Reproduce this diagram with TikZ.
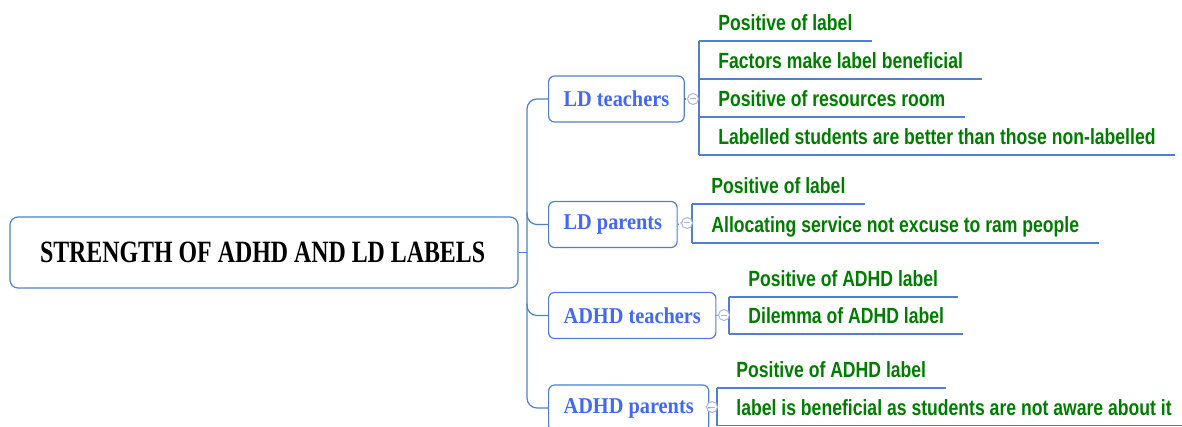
\documentclass[tikz,border=0pt]{standalone}
\usepackage{fontspec}
\setmainfont{Liberation Serif}
\newfontfamily\leaffont[FakeStretch=0.8]{Liberation Sans}
\newfontfamily\titlefont[FakeStretch=0.77]{Liberation Serif}
\newfontfamily\childfont[FakeStretch=0.9]{Liberation Serif}
\usetikzlibrary{calc}

\definecolor{linecol}{RGB}{80,128,205}
\definecolor{childcol}{RGB}{66,104,245}
\definecolor{leafcol}{RGB}{0,125,0}
\definecolor{knobcol}{RGB}{170,182,222}

\tikzset{
  branch/.style={draw=linecol,line width=0.6pt},
  rootbox/.style={draw=linecol,line width=0.6pt,rounded corners=4pt,fill=white,
    text width=224pt,align=left,inner xsep=15pt,minimum height=35.5pt,
    font=\titlefont\bfseries\fontsize{15.5}{17}\selectfont},
  childbox/.style={draw=linecol,line width=0.6pt,rounded corners=3pt,fill=white,anchor=west,
    inner xsep=7.5pt,minimum height=23pt,text=childcol,
    font=\childfont\bfseries\fontsize{11.3}{13}\selectfont},
  leaf/.style={anchor=south west,inner xsep=9.5pt,inner ysep=5pt,text depth=0pt,text=leafcol,
    font=\leaffont\bfseries\fontsize{11}{13}\selectfont},
  knob/.style={circle,draw=knobcol,line width=0.5pt,fill=white,minimum size=5.5pt,inner sep=0pt,
    path picture={\draw[knobcol] ($(path picture bounding box.west)+(2.5,0)$) -- ($(path picture bounding box.east)+(-2.5,0)$);}}
}

\begin{document}
\begin{tikzpicture}[x=0.5pt,y=-0.5pt]
  \useasboundingbox (0,0) rectangle (1182,427);
  \coordinate (trunk) at (527,0);

  % root
  \node[rootbox,minimum width=254pt] (root) at (264,252.5) {\spaceskip=3pt\relax STRENGTH OF ADHD AND LD LABELS};

  % children
  \node[childbox] (ldt) at (548,99) {LD teachers};
  \node[childbox] (ldp) at (548,224.5) {LD parents};
  \node[childbox] (adt) at (548,315.5) {ADHD teachers};
  \node[childbox] (adp) at (548,408) {ADHD parents};

  \draw[branch] (root.east) -- (root.east -| trunk);
  \draw[branch,rounded corners=5pt] (ldt.west) -- (ldt.west -| trunk) |- (adp.west);
  \draw[branch,rounded corners=5pt] ($(ldp.west -| trunk)+(0,-12)$) |- (ldp.west);
  \draw[branch,rounded corners=5pt] ($(adt.west -| trunk)+(0,-12)$) |- (adt.west);

  % LD teachers
  \node[leaf] (ldt1) at (699,41) {Positive of label};
  \node[leaf] (ldt2) at (699,79) {Factors make label beneficial};
  \node[leaf] (ldt3) at (699,117) {Positive of resources room};
  \node[leaf] (ldt4) at (699,155) {Labelled students are better than those non-labelled};
  \draw[branch] (ldt1.south west) -- (ldt4.south west);

  % LD parents
  \node[leaf] (ldp1) at (692,204) {Positive of label};
  \node[leaf] (ldp2) at (692,243) {Allocating service not excuse to ram people};
  \draw[branch] (ldp1.south west) -- (ldp2.south west);

  % ADHD teachers
  \node[leaf] (adt1) at (729,297) {Positive of ADHD label};
  \node[leaf] (adt2) at (729,334) {Dilemma of ADHD label};
  \draw[branch] (adt1.south west) -- (adt2.south west);

  % ADHD parents
  \node[leaf] (adp1) at (717,388) {Positive of ADHD label};
  \node[leaf] (adp2) at (717,425.5) {label is beneficial as students are not aware about it};
  \draw[branch] (adp1.south west) -- (adp2.south west);

  \foreach \n in {ldt1,ldt2,ldt3,ldt4,ldp1,ldp2,adt1,adt2,adp1,adp2}
    \draw[branch] (\n.south west) -- (\n.south east);

  % collapse knobs
  \node[knob] (ldtk) at (693,99) {};
  \node[knob] (ldpk) at (687,223) {};
  \node[knob] (adtk) at (724,315) {};
  \node[knob] (adpk) at (712,407) {};
  \draw[branch,densely dotted] (ldt.east) -- (ldtk.west);
  \draw[branch,densely dotted] (ldp.east) -- (ldpk.west);
  \draw[branch,densely dotted] (adt.east) -- (adtk.west);
  \draw[branch,densely dotted] (adp.east) -- (adpk.west);
\end{tikzpicture}
\end{document}
